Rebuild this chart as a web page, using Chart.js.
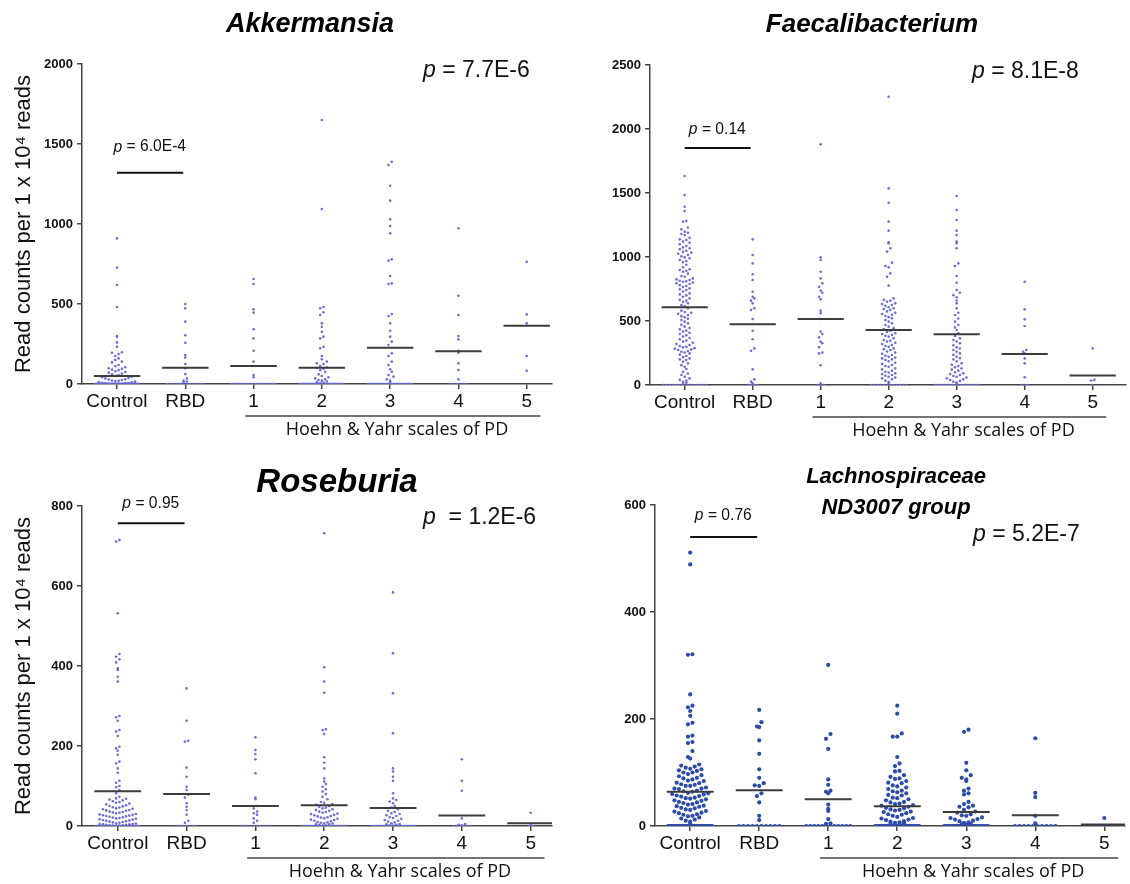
<!DOCTYPE html>
<html>
<head>
<meta charset="utf-8">
<script src="https://cdn.jsdelivr.net/npm/chart.js@4.4.1/dist/chart.umd.min.js"></script>
<style>
  body { margin: 0; background: #fff; }
  #wrap { position: relative; width: 1130px; height: 884px; }
  canvas { position: absolute; }
</style>
</head>
<body>
<div id="wrap">
  <canvas id="akk" width="565" height="442" style="left:0;top:0"></canvas>
  <canvas id="fae" width="565" height="442" style="left:565px;top:0"></canvas>
  <canvas id="ros" width="565" height="442" style="left:0;top:442px"></canvas>
  <canvas id="lac" width="565" height="442" style="left:565px;top:442px"></canvas>
</div>
<script>
const categories = ['Control', 'RBD', '1', '2', '3', '4', '5'];
const groupLabel = 'Hoehn & Yahr scales of PD';
const yTitle = 'Read counts per 1 x 10\u2074 reads';

// Akkermansia
const akkControl = [910, 727, 619, 481, 300, 295, 260, 233, 198, 195, 187, 175, 160, 150, 140, 135, 119, 112, 105, 98, 95, 90, 87, 80, 75, 71, 65, 60, 56, 50, 46, 42, 38, 35, 30, 28, 25, 22, 20, 18, 15, 12, 10, 8, 6, 5, 4, 3, 2, 2, 1, 1,
  0, 0, 0, 0, 0, 0, 0, 0, 0, 0, 0, 0, 0, 0, 0, 0, 0, 0, 0, 0, 0, 0, 0, 0, 0, 0, 0, 0, 0, 0, 0, 0, 0, 0, 0, 0, 0, 0, 0, 0, 0, 0, 0, 0, 0,
  0, 0, 0, 0, 0, 0, 0, 0, 0, 0, 0, 0, 0, 0, 0, 0, 0, 0, 0, 0, 0, 0, 0, 0, 0, 0, 0, 0, 0, 0, 0, 0, 0, 0, 0, 0, 0, 0, 0, 0];
const akkRbd = [500, 473, 390, 304, 258, 181, 165, 125, 98, 62, 35, 21, 15, 10, 0, 0, 0, 0, 0, 0, 0, 0, 0, 0, 0, 0];
const akkHY1 = [656, 625, 467, 446, 342, 285, 208, 140, 56, 42, 0, 0, 0, 0, 0, 0, 0, 0, 0, 0, 0, 0, 0, 0, 0, 0, 0, 0, 0];
const akkHY2 = [1650, 1094, 481, 473, 448, 431, 379, 358, 327, 296, 285, 233, 223, 175, 154, 140, 130, 125, 112, 104, 100, 95, 87, 77, 60, 50, 42, 35, 29, 25, 21, 15, 12, 8, 5,
  0, 0, 0, 0, 0, 0, 0, 0, 0, 0, 0, 0, 0, 0, 0, 0, 0, 0, 0, 0, 0, 0, 0, 0, 0, 0, 0, 0, 0, 0, 0, 0, 0, 0, 0, 0, 0, 0, 0, 0, 0, 0, 0, 0, 0];
const akkHY3 = [1389, 1369, 1239, 1146, 1029, 987, 942, 779, 771, 675, 629, 625, 437, 425, 379, 333, 296, 265, 244, 192, 175, 140, 119, 92, 77, 56, 46, 29, 21, 12,
  0, 0, 0, 0, 0, 0, 0, 0, 0, 0, 0, 0, 0, 0, 0, 0, 0, 0, 0, 0, 0, 0, 0, 0, 0, 0, 0, 0, 0, 0, 0, 0, 0, 0, 0, 0];
const akkHY4 = [973, 552, 431, 300, 279, 208, 196, 129, 87, 29, 0, 0, 0, 0, 0, 0];
const akkHY5 = [764, 435, 379, 175, 83];
const akkMeans = [50, 102, 112, 102, 227, 204, 364];

// Faecalibacterium
const faeControl = [1633, 1484, 1393, 1359, 1281, 1276, 1230, 1216, 1198, 1190, 1180, 1172, 1150, 1138, 1133, 1120, 1112, 1100, 1086, 1075, 1068, 1060, 1049, 1040, 1034, 1025, 1016, 1005, 997, 990,
  977, 969, 960, 940, 920, 904, 898, 892, 885, 870, 852, 845, 833, 825, 820, 815, 810, 807, 800, 795, 789, 780, 773, 765, 755, 748, 742, 730, 716, 708, 700, 690, 677, 665, 659, 648, 638, 625, 617, 600,
  581, 570, 565, 556, 547, 538, 529, 518, 508, 495, 482, 470, 456, 445, 435, 425, 417, 408, 398, 388, 378, 367, 357, 348, 339, 330, 320, 312, 305, 298, 294, 288, 284, 278, 273, 266, 260, 254, 247, 237,
  227, 218, 208, 200, 195, 182, 169, 155, 143, 125, 104, 90, 78, 65, 52, 40, 34, 25, 18, 10, 0, 0, 0, 0, 0, 0, 0, 0, 0, 0, 0, 0, 0, 0];
const faeRbd = [1138, 1016, 950, 865, 820, 729, 690, 677, 659, 638, 599, 586, 516, 424, 357, 286, 268, 122, 44, 26, 13, 0, 0, 0, 0];
const faeHY1 = [1880, 997, 977, 885, 833, 794, 768, 737, 721, 690, 669, 581, 560, 516, 417, 398, 372, 339, 326, 294, 253, 247, 154, 13, 0, 0, 0];
const faeHY2 = [2252, 1536, 1424, 1276, 1206, 1115, 1107, 1068, 1042, 956, 930, 919, 872, 846, 776, 677, 665, 659, 650, 638, 632, 625, 618, 607, 600, 593, 586, 575, 565, 555,
  548, 539, 530, 521, 508, 495, 482, 469, 456, 443, 435, 424, 415, 404, 398, 391, 385, 378, 365, 352, 346, 339, 330, 320, 312, 305, 298, 286, 280, 273,
  262, 253, 244, 234, 228, 221, 214, 208, 200, 195, 185, 174, 165, 156, 148, 143, 130, 122, 112, 104, 98, 91, 85, 78, 72, 65, 58, 52, 45, 34, 23, 15,
  0, 0, 0, 0, 0, 0, 0, 0, 0, 0, 0, 0];
const faeHY3 = [1476, 1367, 1289, 1206, 1172, 1120, 1107, 1068, 950, 930, 852, 799, 742, 721, 702, 685, 660, 638, 600, 565, 547, 520, 495, 469, 450, 430, 404, 383, 365, 352,
  340, 326, 310, 294, 285, 273, 260, 247, 235, 221, 210, 200, 185, 169, 158, 148, 138, 130, 120, 112, 100, 91, 85, 78, 70, 65, 58, 52, 45, 39, 32, 26, 20, 15,
  0, 0, 0, 0, 0, 0, 0, 0, 0, 0, 0, 0, 0, 0, 0, 0, 0, 0];
const faeHY4 = [807, 591, 513, 461, 273, 260, 247, 208, 169, 60, 0, 0, 0];
const faeHY5 = [286, 40, 35, 0];
const faeMeans = [607, 474, 516, 430, 396, 242, 74];

// Roseburia
const rosControl = [715, 711, 532, 430, 423, 417, 409, 394, 390, 373, 361, 275, 272, 263, 240, 236, 225, 198, 194, 188, 178, 161, 157, 144, 133, 113, 108, 100, 97, 90, 82, 73, 69,
  68, 66, 64, 62, 60, 58, 56, 54, 52, 50, 49, 47, 46, 44, 43, 42, 40, 39, 38, 36, 35, 34, 33, 32, 30, 29, 28, 27, 26, 25, 24, 23, 22, 21, 20, 19, 18, 17, 16, 15, 14, 13, 12, 11, 10, 9, 8, 7, 6, 5, 5, 4, 4, 3, 3, 2, 2, 1, 1, 1,
  0, 0, 0, 0, 0, 0, 0, 0, 0, 0, 0, 0, 0, 0, 0, 0, 0, 0, 0, 0, 0, 0, 0, 0, 0];
const rosRbd = [344, 263, 213, 211, 146, 123, 98, 90, 78, 71, 57, 48, 40, 28, 13, 8, 0, 0, 0, 0, 0, 0, 0];
const rosHY1 = [222, 190, 180, 167, 132, 71, 67, 50, 44, 36, 32, 28, 19, 13, 8, 0, 0, 0, 0, 0, 0, 0, 0, 0, 0];
const rosHY2 = [732, 397, 361, 333, 242, 240, 230, 172, 158, 144, 119, 111, 105, 98, 92, 86, 80, 73, 67,
  60, 58, 55, 53, 50, 48, 46, 44, 42, 40, 38, 36, 35, 33, 31, 30, 28, 27, 25, 24, 22, 21, 19, 18, 16, 15, 13, 12, 10, 9, 8, 7, 6, 5, 4, 3, 2, 1,
  0, 0, 0, 0, 0, 0, 0, 0, 0, 0, 0, 0, 0, 0, 0, 0, 0, 0, 0, 0, 0, 0, 0, 0, 0, 0, 0, 0, 0, 0];
const rosHY3 = [584, 432, 332, 232, 144, 136, 123, 113, 82, 69, 65, 61, 57, 50, 46, 42, 38, 35, 32, 30, 27, 25, 22, 20, 18, 15, 13, 11, 9, 7, 5, 4, 3, 2, 1,
  0, 0, 0, 0, 0, 0, 0, 0, 0, 0, 0, 0, 0, 0, 0, 0, 0, 0, 0, 0, 0, 0, 0, 0, 0];
const rosHY4 = [167, 113, 88, 19, 5, 3, 2, 0, 0, 0, 0, 0, 0];
const rosHY5 = [33, 2, 0, 0];
const rosMeans = [87, 80, 50, 52, 45, 26, 7];

// Lachnospiraceae ND3007 group
const lacControl = [511, 489, 321, 320, 246, 225, 222, 215, 206, 193, 190, 169, 167, 157, 155, 140, 129, 126, 115, 113, 111, 109, 107, 106, 104, 103, 100, 100, 97, 95,
  93, 90, 89, 87, 85, 84, 81, 80, 78, 77, 75, 75, 72, 70, 70, 69, 66, 65, 64, 62, 61, 60, 59, 57, 56, 55, 53, 52, 51, 50, 48, 47, 45, 44, 43, 41, 40, 38, 37, 36,
  34, 33, 31, 30, 28, 27, 25, 24, 22, 21, 19, 18, 16, 14, 12, 10, 8, 5,
  0, 0, 0, 0, 0, 0, 0, 0, 0, 0, 0, 0, 0, 0, 0, 0, 0, 0, 0, 0, 0, 0, 0, 0, 0, 0, 0, 0, 0, 0, 0, 0, 0, 0, 0, 0, 0, 0, 0, 0, 0, 0, 0, 0, 0];
const lacRbd = [217, 194, 186, 185, 160, 135, 106, 90, 80, 76, 75, 61, 56, 44, 19, 11, 0, 0, 0, 0, 0, 0, 0, 0, 0, 0];
const lacHY1 = [301, 172, 163, 144, 87, 77, 66, 64, 61, 40, 32, 28, 13, 5, 4, 0, 0, 0, 0, 0, 0, 0, 0, 0, 0, 0, 0];
const lacHY2 = [225, 210, 173, 167, 167, 129, 117, 112, 103, 102, 95, 92, 89, 88, 84, 81, 80, 76, 74, 72, 69, 66, 65, 63, 61, 58, 57, 53, 52, 50, 48, 45, 44, 42, 41,
  39, 38, 36, 34, 33, 31, 30, 29, 27, 26, 24, 22, 21, 19, 17, 15, 14, 12, 11, 9, 8, 7, 6, 5, 4, 3, 2,
  0, 0, 0, 0, 0, 0, 0, 0, 0, 0, 0, 0, 0, 0, 0, 0, 0, 0, 0, 0, 0, 0, 0, 0, 0, 0, 0, 0, 0, 0];
const lacHY3 = [180, 176, 118, 104, 95, 90, 87, 84, 70, 66, 61, 59, 45, 41, 38, 36, 35, 30, 27, 25, 22, 20, 19, 16, 15, 13, 12, 10, 9, 7, 6, 4, 3, 2,
  0, 0, 0, 0, 0, 0, 0, 0, 0, 0, 0, 0, 0, 0, 0, 0, 0, 0, 0, 0, 0, 0, 0, 0, 0, 0, 0, 0];
const lacHY4 = [164, 62, 54, 19, 5, 0, 0, 0, 0, 0, 0, 0, 0, 0, 0];
const lacHY5 = [15, 0, 0, 0];
const lacMeans = [64, 67, 50, 37, 26, 20, 3];

const FONT = '"Liberation Sans", Arial, sans-serif';

// spread points with similar values sideways, like a Prism dot plot
function swarm(values, cat, binVal, gap, maxHalf) {
  const bins = new Map();
  values.forEach(v => {
    const b = v === 0 ? -1 : Math.round(v / binVal);
    if (!bins.has(b)) bins.set(b, []);
    bins.get(b).push(v);
  });
  const out = [];
  bins.forEach(list => {
    list.sort((a, b) => a - b);
    const n = list.length;
    let g = gap;
    if (n > 1 && (n - 1) * g / 2 > maxHalf) g = 2 * maxHalf / (n - 1);
    // slots ordered from the centre outwards, alternating sides
    const slots = [];
    for (let k = 0; k < n; k++) slots.push(k - (n - 1) / 2);
    slots.sort((a, b) => Math.abs(a) - Math.abs(b) || a - b);
    list.forEach((v, k) => out.push({ x: cat + slots[k] * g, y: v }));
  });
  return out;
}

function drawP(ctx, rest, x, y, size, sx, centred) {
  ctx.save();
  ctx.translate(x, y);
  ctx.scale(sx, 1);
  ctx.textBaseline = 'middle';
  ctx.textAlign = 'left';
  ctx.fillStyle = '#111';
  const fp = 'italic ' + size + 'px ' + FONT;
  const fr = size + 'px ' + FONT;
  ctx.font = fp;
  const wp = ctx.measureText('p').width;
  ctx.font = fr;
  const wr = ctx.measureText(rest).width;
  const x0 = centred ? -(wp + wr) / 2 : 0;
  ctx.font = fp;
  ctx.fillText('p', x0, 0);
  ctx.font = fr;
  ctx.fillText(rest, x0 + wp, 0);
  ctx.restore();
}

const annotate = {
  id: 'annotate',
  afterDraw(chart, args, o) {
    const ctx = chart.ctx;
    const xs = chart.scales.x, ys = chart.scales.y;
    const area = chart.chartArea;
    ctx.save();
    ctx.fillStyle = '#000';
    ctx.textAlign = 'center';
    ctx.textBaseline = 'middle';
    ctx.font = 'italic bold ' + o.titleSize + 'px ' + FONT;
    o.title.forEach((t, k) => ctx.fillText(t, o.titleX, o.titleY + k * o.titleLead));

    drawP(ctx, o.pBig, o.pX, o.pY, 23, 1, false);
    drawP(ctx, o.pSmall, xs.getPixelForValue(0.48), ys.getPixelForValue(o.pLine) - o.pGap, 17, 0.92, true);

    // bracket under the Hoehn & Yahr stages
    const by = area.bottom + 32;
    ctx.strokeStyle = '#444';
    ctx.lineWidth = 1.5;
    ctx.beginPath();
    ctx.moveTo(xs.getPixelForValue(1.88), by);
    ctx.lineTo(xs.getPixelForValue(6.2), by);
    ctx.stroke();
    ctx.fillStyle = '#111';
    ctx.font = '18px "Open Sans", "Noto Sans", sans-serif';
    ctx.fillText(groupLabel, xs.getPixelForValue(4.1), area.bottom + 46);
    ctx.restore();
  }
};

function makePanel(id, groups, means, p) {
  const pxPerCat = (p.right - p.left) / (p.xMax - p.xMin);
  const binVal = p.yMax * p.binPx / (p.bottom - p.top);
  const pts = [];
  groups.forEach((vals, i) => {
    swarm(vals, i, binVal, p.gapPx / pxPerCat, 22 / pxPerCat).forEach(pt => pts.push(pt));
  });
  const meanPts = [];
  means.forEach((m, i) => {
    meanPts.push({ x: i - 0.34, y: m }, { x: i + 0.34, y: m }, { x: i, y: null });
  });

  new Chart(document.getElementById(id), {
    type: 'scatter',
    data: {
      datasets: [
        {
          type: 'line', data: [{ x: 0, y: p.pLine }, { x: 0.97, y: p.pLine }],
          borderColor: '#111', borderWidth: 2, pointRadius: 0
        },
        {
          type: 'line', data: meanPts, spanGaps: false,
          borderColor: '#3c3c3c', borderWidth: 2, pointRadius: 0
        },
        {
          data: pts, pointRadius: p.r, pointBorderWidth: 0,
          pointBackgroundColor: p.color, backgroundColor: p.color
        }
      ]
    },
    options: {
      responsive: false,
      animation: false,
      events: [],
      layout: { padding: { left: 0, top: p.top, right: 565 - p.right, bottom: 0 } },
      plugins: {
        legend: { display: false },
        tooltip: { enabled: false },
        annotate: p.notes
      },
      scales: {
        x: {
          type: 'linear', min: p.xMin, max: p.xMax, offset: false,
          afterBuildTicks: s => { s.ticks = categories.map((c, i) => ({ value: i })); },
          afterFit: s => { s.height = 442 - p.bottom; },
          grid: { drawOnChartArea: false, tickLength: 5, color: '#444', lineWidth: 1.5 },
          border: { color: '#444', width: 1.5 },
          ticks: {
            padding: 1, color: '#111', font: { family: FONT, size: 19 },
            callback: v => categories[v]
          }
        },
        y: {
          min: 0, max: p.yMax,
          afterFit: s => { s.width = p.left; },
          grid: { drawOnChartArea: false, tickLength: 5, color: '#444', lineWidth: 1.5 },
          border: { color: '#444', width: 1.5 },
          ticks: {
            stepSize: p.step, padding: 4, color: '#111',
            font: { family: FONT, size: 13, weight: 'bold' },
            callback: v => String(v)
          },
          title: {
            display: p.yTitle, text: yTitle, color: '#111',
            font: { family: FONT, size: 22 }, padding: { top: 11, bottom: 0 }
          }
        }
      }
    },
    plugins: [annotate]
  });
}

const dots = 'rgba(100, 100, 210, 0.95)';

makePanel('akk', [akkControl, akkRbd, akkHY1, akkHY2, akkHY3, akkHY4, akkHY5], akkMeans, {
  left: 82, top: 64, bottom: 384, right: 552, xMin: -0.512, xMax: 6.37,
  yMax: 2000, step: 500, yTitle: true, pLine: 1320,
  r: 1.3, color: dots, binPx: 5, gapPx: 3.3,
  notes: { title: ['Akkermansia'], titleSize: 27, titleX: 310, titleY: 25, titleLead: 0,
    pBig: ' = 7.7E-6', pX: 423, pY: 71, pSmall: ' = 6.0E-4', pLine: 1320, pGap: 26 }
});

makePanel('fae', [faeControl, faeRbd, faeHY1, faeHY2, faeHY3, faeHY4, faeHY5], faeMeans, {
  left: 85, top: 65, bottom: 385, right: 565, xMin: -0.51, xMax: 6.49,
  yMax: 2500, step: 500, yTitle: false, pLine: 1851,
  r: 1.3, color: dots, binPx: 5, gapPx: 3.3,
  notes: { title: ['Faecalibacterium'], titleSize: 26, titleX: 307, titleY: 25, titleLead: 0,
    pBig: ' = 8.1E-8', pX: 407, pY: 72, pSmall: ' = 0.14', pLine: 1851, pGap: 19 }
});

makePanel('ros', [rosControl, rosRbd, rosHY1, rosHY2, rosHY3, rosHY4, rosHY5], rosMeans, {
  left: 82, top: 64, bottom: 384, right: 552, xMin: -0.52, xMax: 6.31,
  yMax: 800, step: 200, yTitle: true, pLine: 757,
  r: 1.3, color: dots, binPx: 5, gapPx: 3.3,
  notes: { title: ['Roseburia'], titleSize: 33, titleX: 337, titleY: 41, titleLead: 0,
    pBig: '  = 1.2E-6', pX: 423, pY: 76, pSmall: ' = 0.95', pLine: 757, pGap: 20 }
});

makePanel('lac', [lacControl, lacRbd, lacHY1, lacHY2, lacHY3, lacHY4, lacHY5], lacMeans, {
  left: 90, top: 63, bottom: 384, right: 560, xMin: -0.51, xMax: 6.3,
  yMax: 600, step: 200, yTitle: false, pLine: 540,
  r: 2.1, color: '#2c4ca8', binPx: 6, gapPx: 4.5,
  notes: { title: ['Lachnospiraceae', 'ND3007 group'], titleSize: 22, titleX: 331, titleY: 35, titleLead: 31,
    pBig: ' = 5.2E-7', pX: 408, pY: 93, pSmall: ' = 0.76', pLine: 540, pGap: 22 }
});
</script>
</body>
</html>
